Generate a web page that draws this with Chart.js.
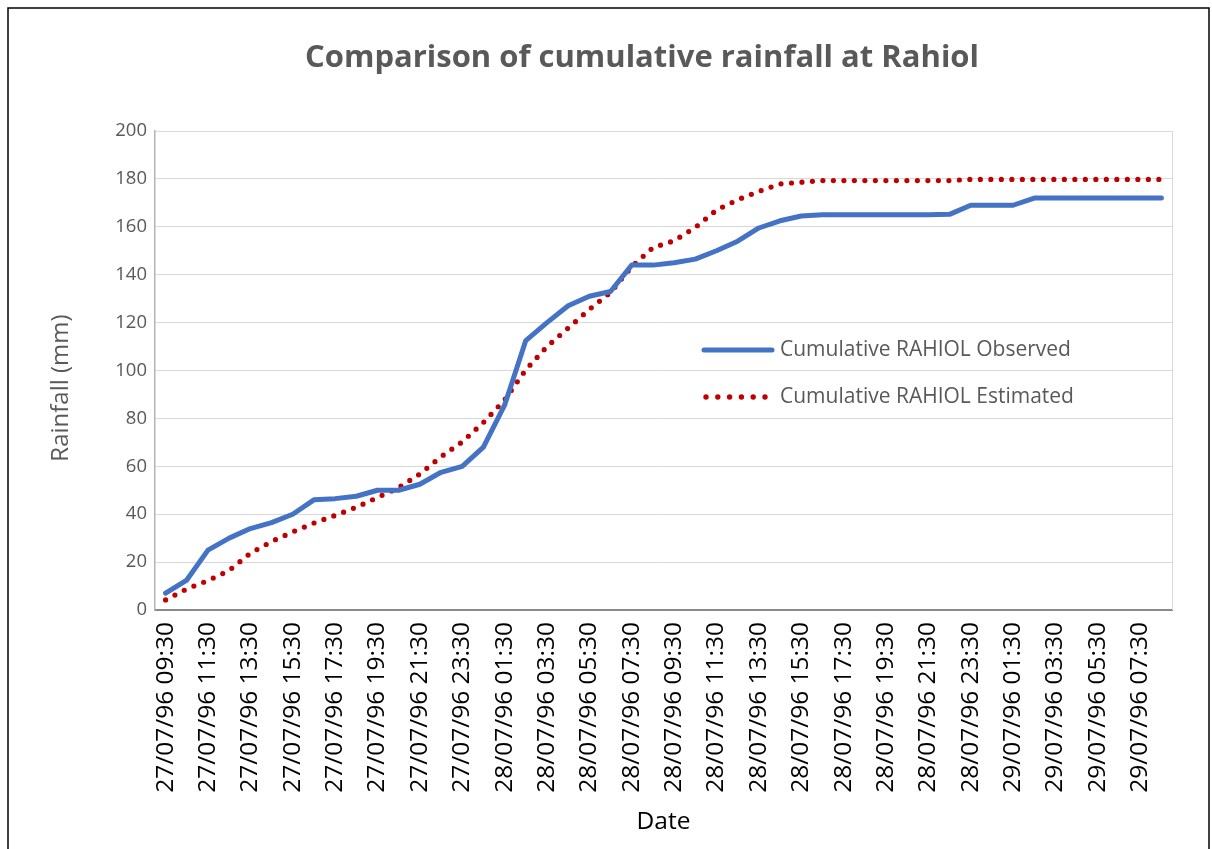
<!DOCTYPE html>
<html>
<head>
<meta charset="utf-8">
<title>Comparison of cumulative rainfall at Rahiol</title>
<script src="https://cdn.jsdelivr.net/npm/chart.js@4.4.1/dist/chart.umd.min.js"></script>
<style>
  html, body { margin: 0; padding: 0; background: #fff; overflow: hidden; }
  canvas { display: block; }
</style>
</head>
<body>
<canvas id="rainChart" width="1212" height="849"></canvas>
<script>
// Hourly time steps (only every second one is labelled on the axis)
const dateLabels = [
    '27/07/96 09:30', '27/07/96 10:30', '27/07/96 11:30', '27/07/96 12:30',
    '27/07/96 13:30', '27/07/96 14:30', '27/07/96 15:30', '27/07/96 16:30',
    '27/07/96 17:30', '27/07/96 18:30', '27/07/96 19:30', '27/07/96 20:30',
    '27/07/96 21:30', '27/07/96 22:30', '27/07/96 23:30', '28/07/96 00:30',
    '28/07/96 01:30', '28/07/96 02:30', '28/07/96 03:30', '28/07/96 04:30',
    '28/07/96 05:30', '28/07/96 06:30', '28/07/96 07:30', '28/07/96 08:30',
    '28/07/96 09:30', '28/07/96 10:30', '28/07/96 11:30', '28/07/96 12:30',
    '28/07/96 13:30', '28/07/96 14:30', '28/07/96 15:30', '28/07/96 16:30',
    '28/07/96 17:30', '28/07/96 18:30', '28/07/96 19:30', '28/07/96 20:30',
    '28/07/96 21:30', '28/07/96 22:30', '28/07/96 23:30', '29/07/96 00:30',
    '29/07/96 01:30', '29/07/96 02:30', '29/07/96 03:30', '29/07/96 04:30',
    '29/07/96 05:30', '29/07/96 06:30', '29/07/96 07:30', '29/07/96 08:30'
];

// Cumulative rainfall (mm)
const observed = [
    7, 12.5, 25, 30, 34, 36.5, 40, 46, 46.5, 47.5, 50, 50,
    52.5, 57.5, 60, 68, 85.5, 112.5, 120, 127, 131, 133, 144, 144,
    145, 146.5, 150, 154, 159.5, 162.5, 164.5, 165, 165, 165, 165, 165,
    165, 165.2, 169, 169, 169, 172, 172, 172, 172, 172, 172, 172
];
const estimated = [
    4.2, 8.8, 12.3, 16.5, 23.7, 28.6, 32.6, 36.3, 39.5, 42.9, 47, 51.1,
    56.8, 64, 70.2, 78.3, 87.7, 100.3, 110, 117.7, 125.5, 132.6, 143.4, 151.3,
    154.2, 159.7, 167, 171.3, 174.8, 177.9, 178.6, 179.3, 179.3, 179.3, 179.3, 179.3,
    179.3, 179.3, 179.8, 179.8, 179.8, 179.8, 179.8, 179.8, 179.8, 179.8, 179.8, 179.8
];

const seriesNames = ['Cumulative RAHIOL Observed', 'Cumulative RAHIOL Estimated'];
const chartTitle = 'Comparison of cumulative rainfall at Rahiol';
const yTitle = 'Rainfall (mm)';

const FONT = '"Open Sans", "Liberation Sans", sans-serif';
const GREY_TEXT = '#595959';
const BLUE = '#4472C4';
const RED = '#C00000';

// frame around the whole chart, right border of the plot area, title texts
const decorPlugin = {
    id: 'decor',
    afterDraw(chart) {
        const ctx = chart.ctx;
        const area = chart.chartArea;
        ctx.save();
        ctx.strokeStyle = '#D9D9D9';
        ctx.lineWidth = 1;
        ctx.beginPath();
        ctx.moveTo(area.right + 0.5, area.top);
        ctx.lineTo(area.right + 0.5, area.bottom);
        ctx.stroke();
        ctx.strokeStyle = '#000';
        ctx.lineWidth = 1.5;
        ctx.strokeRect(8, 8, 1201, 900);

        // chart title
        ctx.fillStyle = GREY_TEXT;
        ctx.textAlign = 'center';
        ctx.textBaseline = 'middle';
        ctx.font = 'bold 31px ' + FONT;
        ctx.fillText(chartTitle, 642, 58);

        // y axis title
        ctx.font = '24px ' + FONT;
        ctx.translate(61, 388);
        ctx.rotate(-Math.PI / 2);
        ctx.fillText(yTitle, 0, 0);
        ctx.restore();
    }
};

// legend drawn inside the plot area, like the Excel original
const innerLegend = {
    id: 'innerLegend',
    afterDraw(chart) {
        const ctx = chart.ctx;
        const x0 = 704, x1 = 772, textX = 780;
        const rows = [350, 397];
        ctx.save();
        ctx.font = '21px ' + FONT;
        ctx.fillStyle = GREY_TEXT;
        ctx.textBaseline = 'middle';
        ctx.lineCap = 'round';

        ctx.strokeStyle = BLUE;
        ctx.lineWidth = 5;
        ctx.beginPath();
        ctx.moveTo(x0, rows[0]);
        ctx.lineTo(x1, rows[0]);
        ctx.stroke();
        ctx.fillText(seriesNames[0], textX, rows[0]);

        ctx.fillStyle = RED;
        for (let i = 0; i < 6; i++) {
            ctx.beginPath();
            ctx.arc(x0 + 2 + i * 11.8, rows[1], 2.7, 0, Math.PI * 2);
            ctx.fill();
        }
        ctx.fillStyle = GREY_TEXT;
        ctx.fillText(seriesNames[1], textX, rows[1]);
        ctx.restore();
    }
};

function renderChart() {
    const ctx = document.getElementById('rainChart').getContext('2d');
    new Chart(ctx, {
        type: 'line',
        data: {
            labels: dateLabels,
            datasets: [{
                label: seriesNames[0],
                data: observed,
                borderColor: BLUE,
                borderWidth: 5,
                borderJoinStyle: 'round',
                borderCapStyle: 'round',
                pointRadius: 0,
                tension: 0,
                fill: false
            }, {
                label: seriesNames[1],
                data: estimated,
                borderColor: RED,
                borderWidth: 5.2,
                borderDash: [0, 10.5],
                borderCapStyle: 'round',
                pointRadius: 0,
                tension: 0,
                fill: false
            }]
        },
        options: {
            responsive: false,
            animation: false,
            layout: { padding: { left: 8, right: 40, top: 131, bottom: 0 } },
            plugins: {
                legend: { display: false },
                tooltip: { enabled: false },
                title: { display: false }
            },
            scales: {
                x: {
                    offset: true,
                    grid: { display: false, drawTicks: false },
                    border: { display: true, color: '#898989', width: 2 },
                    ticks: {
                        autoSkip: false,
                        minRotation: 90,
                        maxRotation: 90,
                        padding: 12,
                        color: '#000',
                        font: { family: FONT, size: 24.5 },
                        callback: function (value, index) {
                            return index % 2 === 0 ? this.getLabelForValue(value) : '';
                        }
                    },
                    title: {
                        display: true,
                        text: 'Date',
                        color: '#000',
                        font: { family: FONT, size: 24.5 },
                        padding: { top: 0, bottom: 12 }
                    },
                    afterFit(scale) { scale.height = 239; }
                },
                y: {
                    min: 0,
                    max: 200,
                    grid: {
                        drawTicks: false,
                        lineWidth: 1,
                        color: (c) => c.tick && c.tick.value === 0 ? 'rgba(0,0,0,0)' : '#D9D9D9'
                    },
                    border: { display: true, color: '#B3B3B3', width: 1.5 },
                    ticks: {
                        stepSize: 20,
                        padding: 8,
                        color: GREY_TEXT,
                        font: { family: FONT, size: 18.5 }
                    },
                    afterFit(scale) { scale.width = 147; }
                }
            }
        },
        plugins: [decorPlugin, innerLegend]
    });
}

renderChart();
</script>
</body>
</html>
